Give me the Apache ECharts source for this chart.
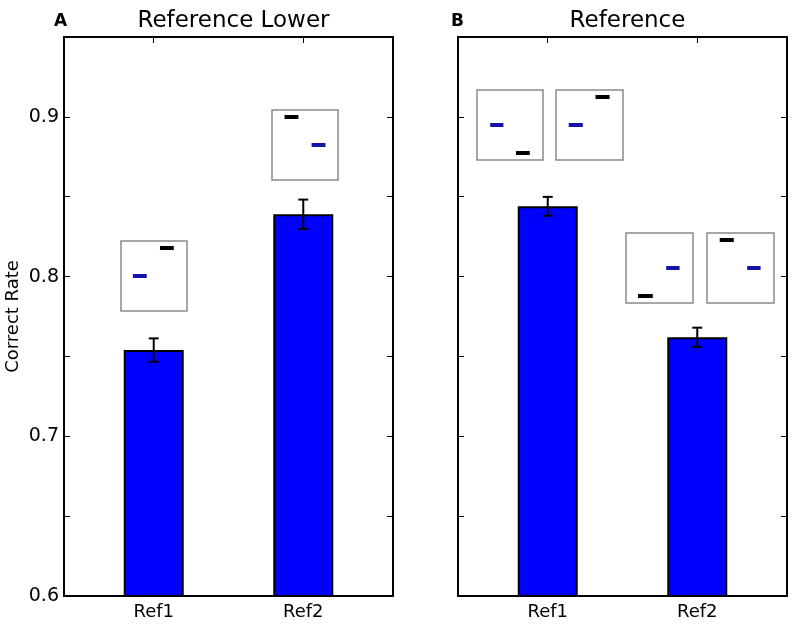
<!DOCTYPE html>
<html>
<head>
<meta charset="utf-8">
<script src="https://cdn.jsdelivr.net/npm/echarts@6/dist/echarts.min.js"></script>
<style>html,body{margin:0;padding:0;background:#fff}#c{width:796px;height:626px}</style>
</head>
<body>
<div id="c"></div>
<script>
// ---- data ----
const categories = ['Ref1', 'Ref2'];
const catPositions = [0, 1];
const panelTitles = ['Reference Lower', 'Reference'];
const panelLetters = ['A', 'B'];
const lowerValues = [0.754, 0.839];
const lowerErrors = [0.0073, 0.0092];
const refValues = [0.844, 0.762];
const refErrors = [0.0059, 0.0060];
const yLabelTicks = [0.6, 0.7, 0.8, 0.9];
const yAxisName = 'Correct Rate';
// inset stimuli (normalized 0..1 in each inset): [xStart, xEnd, y]
const insetBlueDash = [[0.18, 0.39, 0.5], [0.60, 0.81, 0.5], [0.20, 0.40, 0.5], [0.19, 0.40, 0.5], [0.60, 0.80, 0.5], [0.60, 0.80, 0.5]];
const insetBlackDash = [[0.59, 0.80, 0.9], [0.19, 0.40, 0.9], [0.59, 0.80, 0.1], [0.59, 0.80, 0.9], [0.18, 0.40, 0.1], [0.19, 0.40, 0.9]];

// ---- layout ----
const FONT = 'DejaVu Sans';
const panels = [{left: 64, top: 37, width: 329, height: 559}, {left: 458, top: 37, width: 329, height: 559}];
const insetBoxes = [
  {left: 121, top: 241, width: 66, height: 70},
  {left: 272, top: 110, width: 66, height: 70},
  {left: 477, top: 90, width: 66, height: 70},
  {left: 556, top: 90, width: 67, height: 70},
  {left: 626, top: 233, width: 67, height: 70},
  {left: 707, top: 233, width: 67, height: 70}
];

const grid = [], xAxis = [], yAxis = [], series = [];
const lineStyle = {color: '#000', width: 2};

panels.forEach((p, i) => {
  grid.push({left: p.left, top: p.top, width: p.width, height: p.height, containLabel: false});
  const gi = i;
  ['bottom', 'top'].forEach(pos => {
    xAxis.push({
      gridIndex: gi, type: 'value', min: -0.6, max: 1.6, position: pos,
      axisLine: {show: true, onZero: false, lineStyle},
      axisTick: {show: true, inside: true, length: 6, customValues: catPositions, lineStyle: {color: '#000', width: 1}},
      axisLabel: pos === 'bottom' ? {show: true, customValues: catPositions, margin: 7, fontFamily: FONT, fontSize: 18, color: '#000',
        formatter: v => categories[Math.round(v)] || ''} : {show: false},
      splitLine: {show: false}
    });
  });
  ['left', 'right'].forEach(pos => {
    yAxis.push({
      gridIndex: gi, type: 'value', min: 0.6, max: 0.95, interval: 0.05, position: pos,
      name: (i === 0 && pos === 'left') ? yAxisName : '',
      nameLocation: 'middle', nameGap: 42, nameRotate: 90,
      nameTextStyle: {fontFamily: FONT, fontSize: 18, color: '#000'},
      axisLine: {show: true, onZero: false, lineStyle},
      axisTick: {show: true, inside: true, length: 6, lineStyle: {color: '#000', width: 1}},
      axisLabel: (i === 0 && pos === 'left') ? {show: true, margin: 5, fontFamily: FONT, fontSize: 19, color: '#000',
        formatter: v => {
          const hit = yLabelTicks.find(t => Math.abs(t - v) < 1e-6);
          return hit !== undefined ? hit.toFixed(1) : '';
        }} : {show: false},
      splitLine: {show: false}
    });
  });
  const vals = i === 0 ? lowerValues : refValues;
  const errs = i === 0 ? lowerErrors : refErrors;
  series.push({
    type: 'bar', xAxisIndex: i * 2, yAxisIndex: i * 2, barWidth: 60,
    data: catPositions.map((x, k) => [x, vals[k]]),
    itemStyle: {color: '#0000ff', borderColor: '#000', borderWidth: 2},
    silent: true, z: 2
  });
  series.push({
    type: 'custom', xAxisIndex: i * 2, yAxisIndex: i * 2, z: 5,
    data: catPositions.map((x, k) => [x, vals[k] - errs[k], vals[k] + errs[k]]),
    renderItem: (params, api) => {
      const lo = api.coord([api.value(0), api.value(1)]);
      const hi = api.coord([api.value(0), api.value(2)]);
      const cap = 5;
      const st = {stroke: '#000', lineWidth: 2};
      return {type: 'group', children: [
        {type: 'line', shape: {x1: lo[0], y1: lo[1], x2: hi[0], y2: hi[1]}, style: st},
        {type: 'line', shape: {x1: lo[0] - cap, y1: lo[1], x2: lo[0] + cap, y2: lo[1]}, style: st},
        {type: 'line', shape: {x1: hi[0] - cap, y1: hi[1], x2: hi[0] + cap, y2: hi[1]}, style: st}
      ]};
    }
  });
});

insetBoxes.forEach((b, k) => {
  const gi = grid.length;
  grid.push({left: b.left, top: b.top, width: b.width, height: b.height, show: true, borderColor: '#8a8a8a', borderWidth: 1.5, backgroundColor: '#fff', z: 3});
  const xi = xAxis.length;
  xAxis.push({gridIndex: gi, type: 'value', min: 0, max: 1, show: false});
  const yi = yAxis.length;
  ['left', 'right'].forEach(pos => {
    yAxis.push({gridIndex: gi, type: 'value', min: 0, max: 1, position: pos,
      axisLine: {show: false},
      axisTick: {show: true, inside: true, length: 3, customValues: [0.5], lineStyle: {color: '#aaa', width: 1}},
      axisLabel: {show: false}, splitLine: {show: false}});
  });
  series.push({
    type: 'custom', xAxisIndex: xi, yAxisIndex: yi, z: 6,
    data: [[...insetBlueDash[k], 0], [...insetBlackDash[k], 1]],
    renderItem: (params, api) => {
      const a = api.coord([api.value(0), api.value(2)]);
      const c = api.coord([api.value(1), api.value(2)]);
      return {type: 'line', shape: {x1: a[0], y1: a[1], x2: c[0], y2: c[1]},
        style: {stroke: api.value(3) === 0 ? '#1414a6' : '#000', lineWidth: 4}};
    }
  });
});

const title = [];
panels.forEach((p, i) => {
  title.push({text: panelTitles[i], left: p.left + p.width / 2, top: 5, textAlign: 'center',
    textStyle: {fontFamily: FONT, fontSize: 23, fontWeight: 'normal', color: '#000'}});
  title.push({text: panelLetters[i], left: i === 0 ? 49 : 446, top: 8,
    textStyle: {fontFamily: FONT, fontSize: 17, fontWeight: 'bold', color: '#000'}});
});

const chart = echarts.init(document.getElementById('c'), null, {renderer: 'canvas'});
chart.setOption({animation: false, backgroundColor: '#fff', title, grid, xAxis, yAxis, series});
</script>
</body>
</html>
